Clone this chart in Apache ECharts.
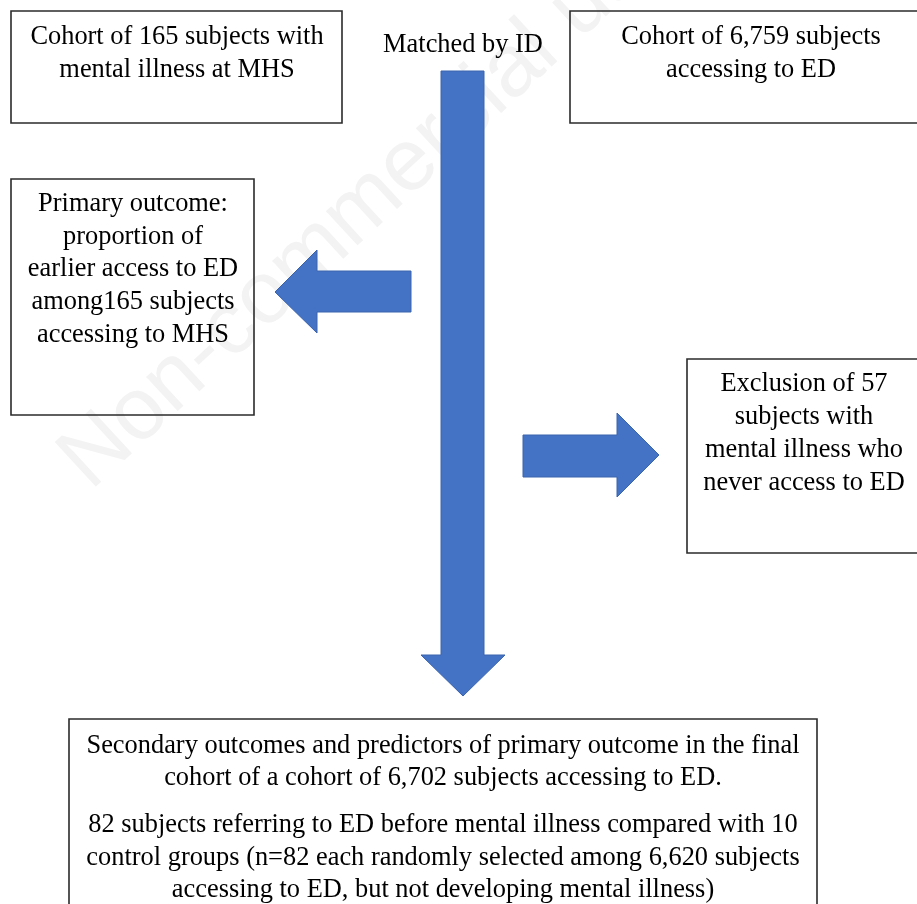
<!DOCTYPE html>
<html>
<head>
<meta charset="utf-8">
<script src="https://cdn.jsdelivr.net/npm/echarts@6/dist/echarts.min.js"></script>
<style>
html,body{margin:0;padding:0;background:#fff;}
#chart{width:917px;height:904px;}
</style>
</head>
<body>
<div id="chart"></div>
<script>
// ---- Text content (data) ----
const box1Lines = ["Cohort of 165 subjects with", "mental illness at MHS"];
const box2Lines = ["Cohort of 6,759 subjects", "accessing to ED"];
const box3Lines = ["Primary outcome:", "proportion of", "earlier access to ED", "among165 subjects", "accessing to MHS"];
const box4Lines = ["Exclusion of 57", "subjects with", "mental illness who", "never access to ED"];
const box5Lines = [
  "Secondary outcomes and predictors of primary outcome in the final",
  "cohort of a cohort of 6,702 subjects accessing to ED.",
  "82 subjects referring to ED before mental illness compared with 10",
  "control groups (n=82 each randomly selected among 6,620 subjects",
  "accessing to ED, but not developing mental illness)"
];
const connectorLabel = "Matched by ID";
const watermarkText = "Non-commercial use only";

// ---- Layout (diagram coordinates, separate from data) ----
const boxLayout = [
  { rect: [11, 11, 342, 123], cx: 177, ys: [37.5, 70] },
  { rect: [570, 11, 932, 123], cx: 751, ys: [37.5, 70] },
  { rect: [11, 179, 254, 415], cx: 133, ys: [204.5, 237.5, 269.5, 302.5, 335.5] },
  { rect: [687, 359, 923, 553], cx: 804, ys: [384.5, 417.5, 450.5, 483.5] },
  { rect: [69, 719, 817, 930], cx: 443, ys: [746, 778.5, 825.5, 858, 890.5] }
];
const boxLines = [box1Lines, box2Lines, box3Lines, box4Lines, box5Lines];
const arrowShapes = [
  [[441, 71], [484, 71], [484, 655], [505, 655], [463, 696], [421, 655], [441, 655]],
  [[411, 271], [411, 312], [317, 312], [317, 333], [275, 292], [317, 250], [317, 271]],
  [[523, 435], [617, 435], [617, 413], [659, 455], [617, 497], [617, 477], [523, 477]]
];
const labelPos = [463, 45];
const watermarkPos = [104, 506];

const FONT = '26.4px "Liberation Serif", "Times New Roman", serif';

const chart = echarts.init(document.getElementById('chart'), null, { renderer: 'canvas' });

const option = {
  backgroundColor: '#ffffff',
  animation: false,
  grid: { left: 0, right: 0, top: 0, bottom: 0 },
  xAxis: { type: 'value', min: 0, max: 917, show: false },
  yAxis: { type: 'value', min: 0, max: 904, inverse: true, show: false },
  series: [
    {
      // watermark
      type: 'custom',
      z: 1,
      silent: true,
      data: [watermarkPos],
      renderItem: function (params, api) {
        const p = api.coord([api.value(0), api.value(1)]);
        return {
          type: 'text',
          x: p[0], y: p[1],
          rotation: 0.745,
          style: {
            text: watermarkText,
            font: '88px "Liberation Sans", Arial, sans-serif',
            fill: '#f3f3f3',
            textAlign: 'left',
            textVerticalAlign: 'bottom'
          }
        };
      }
    },
    {
      // arrows
      type: 'custom',
      z: 2,
      silent: true,
      data: arrowShapes.map((s, i) => [i]),
      renderItem: function (params, api) {
        const pts = arrowShapes[params.dataIndex].map(pt => api.coord(pt));
        return {
          type: 'polygon',
          shape: { points: pts },
          style: { fill: '#4472C4', stroke: '#3A64AE', lineWidth: 1 }
        };
      }
    },
    {
      // boxes with text
      type: 'custom',
      z: 3,
      silent: true,
      data: boxLayout.map((b, i) => [i]),
      renderItem: function (params, api) {
        const b = boxLayout[params.dataIndex];
        const lines = boxLines[params.dataIndex];
        const p0 = api.coord([b.rect[0], b.rect[1]]);
        const p1 = api.coord([b.rect[2], b.rect[3]]);
        const children = [{
          type: 'rect',
          shape: { x: p0[0], y: p0[1], width: p1[0] - p0[0], height: p1[1] - p0[1] },
          style: { fill: 'none', stroke: '#2b2b2b', lineWidth: 1.6 }
        }];
        lines.forEach((t, k) => {
          const c = api.coord([b.cx, b.ys[k]]);
          children.push({
            type: 'text',
            x: c[0], y: c[1],
            style: {
              text: t, font: FONT, fill: '#000000',
              textAlign: 'center', textVerticalAlign: 'middle'
            }
          });
        });
        return { type: 'group', children: children };
      }
    },
    {
      // connector label
      type: 'custom',
      z: 3,
      silent: true,
      data: [labelPos],
      renderItem: function (params, api) {
        const c = api.coord([api.value(0), api.value(1)]);
        return {
          type: 'text', x: c[0], y: c[1],
          style: { text: connectorLabel, font: FONT, fill: '#000000', textAlign: 'center', textVerticalAlign: 'middle' }
        };
      }
    }
  ]
};
chart.setOption(option);
</script>
</body>
</html>
